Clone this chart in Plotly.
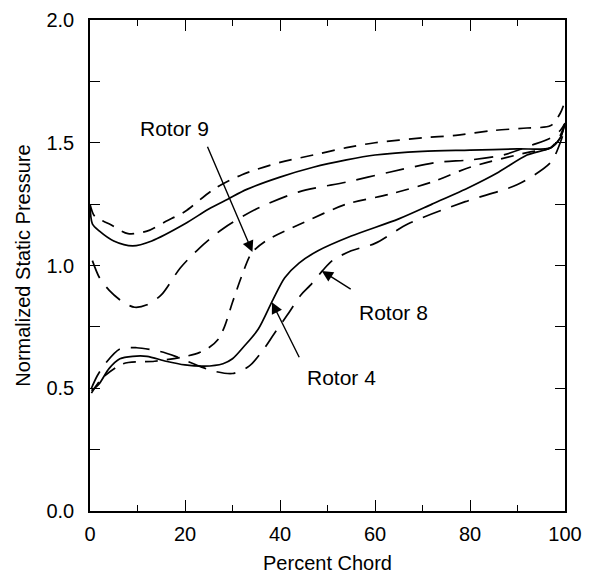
import plotly.graph_objects as go

# Rotor 9 pressure side (upper dashed)
r9p_x = [0, 1, 4, 8, 12, 16, 20, 26, 32, 40, 47, 54, 60, 70, 77, 85, 92, 97, 99, 100]
r9p_y = [1.25, 1.20, 1.17, 1.13, 1.14, 1.18, 1.22, 1.31, 1.37, 1.42, 1.45, 1.48, 1.50, 1.52, 1.53, 1.55, 1.56, 1.57, 1.62, 1.67]

# Rotor 4 pressure side (upper solid)
r4p_x = [0, 0.5, 2, 5, 9, 13, 20, 25, 29, 33, 40, 47, 54, 60, 70, 80, 90, 97, 99, 100]
r4p_y = [1.25, 1.17, 1.14, 1.10, 1.08, 1.10, 1.17, 1.23, 1.27, 1.31, 1.36, 1.40, 1.43, 1.45, 1.465, 1.47, 1.475, 1.48, 1.52, 1.58]

# Rotor 8 pressure side (upper long dash)
r8p_x = [0.5, 2, 4, 7, 9.4, 12, 15, 19, 23, 28, 35, 44, 54, 63, 73, 80, 87, 93, 97, 99, 100]
r8p_y = [1.02, 0.95, 0.90, 0.85, 0.83, 0.84, 0.88, 0.99, 1.07, 1.15, 1.23, 1.30, 1.34, 1.38, 1.42, 1.43, 1.45, 1.49, 1.52, 1.55, 1.58]

# Rotor 4 suction side (lower solid)
r4s_x = [0.3, 2, 4, 6.3, 9, 12, 16, 20, 24, 28, 30, 32.4, 35.4, 38.5, 41, 44, 48, 55, 65, 72, 80, 86, 92, 97, 99, 100]
r4s_y = [0.49, 0.52, 0.58, 0.62, 0.63, 0.63, 0.61, 0.595, 0.59, 0.60, 0.62, 0.67, 0.74, 0.86, 0.95, 1.01, 1.06, 1.12, 1.19, 1.25, 1.32, 1.38, 1.45, 1.48, 1.52, 1.58]

# Rotor 8 suction side (lower long dash)
r8s_x = [0.3, 1.5, 3.2, 6.3, 9.8, 14.7, 18, 23, 26, 30, 33.5, 36.6, 38.7, 41.6, 44.4, 46.4, 49, 51, 55, 60, 67, 79, 90, 97, 99, 100]
r8s_y = [0.50, 0.55, 0.60, 0.66, 0.665, 0.65, 0.63, 0.59, 0.57, 0.56, 0.59, 0.66, 0.72, 0.80, 0.88, 0.92, 0.98, 1.02, 1.06, 1.09, 1.17, 1.26, 1.33, 1.42, 1.50, 1.56]

# Rotor 9 suction side (lower dashed)
r9s_x = [0.3, 2.5, 7, 13.6, 19, 23, 25, 27, 28.3, 30, 32, 34, 37, 44.4, 54, 63, 72, 80, 92, 97, 99, 100]
r9s_y = [0.48, 0.54, 0.60, 0.61, 0.625, 0.645, 0.665, 0.70, 0.75, 0.85, 0.96, 1.05, 1.10, 1.17, 1.25, 1.29, 1.34, 1.40, 1.46, 1.48, 1.53, 1.58]

x_ticks = [0, 20, 40, 60, 80, 100]
y_ticks = [0.0, 0.5, 1.0, 1.5, 2.0]

DASH = "13px,9px"
LONGDASH = "19px,11px"

series = [
    (r9p_x, r9p_y, DASH),
    (r4p_x, r4p_y, "solid"),
    (r8p_x, r8p_y, LONGDASH),
    (r4s_x, r4s_y, "solid"),
    (r8s_x, r8s_y, LONGDASH),
    (r9s_x, r9s_y, DASH),
]

fig = go.Figure()
for xs, ys, dash in series:
    fig.add_trace(go.Scatter(
        x=xs, y=ys, mode="lines",
        line=dict(color="black", width=1.7, dash=dash, shape="spline", smoothing=0.8),
        showlegend=False, hoverinfo="skip"))

font_family = "Liberation Sans, Arial, Helvetica, sans-serif"
fs = 20
afs = 21

# labels
fig.add_annotation(x=17.8, y=1.56, text="Rotor 9", showarrow=False,
                   font=dict(size=afs, color="black", family=font_family))
fig.add_annotation(x=63.8, y=0.81, text="Rotor 8", showarrow=False,
                   font=dict(size=afs, color="black", family=font_family))
fig.add_annotation(x=53, y=0.545, text="Rotor 4", showarrow=False,
                   font=dict(size=afs, color="black", family=font_family))

# arrows (tip x, tip y, tail x, tail y)
arrows = [
    (34.2, 1.055, 24.6, 1.49),
    (48.8, 0.978, 55.2, 0.90),
    (38.3, 0.85, 44.2, 0.62),
]
for x, y, ax, ay in arrows:
    fig.add_annotation(x=x, y=y, ax=ax, ay=ay, xref="x", yref="y", axref="x", ayref="y",
                       text="", showarrow=True, arrowhead=2, arrowsize=1.6,
                       arrowwidth=1.4, arrowcolor="black")

axis_common = dict(
    showgrid=False, zeroline=False, showline=True, linecolor="black", linewidth=1.5,
    mirror="ticks", ticks="inside", tickcolor="black", tickwidth=1.3,
    tickfont=dict(size=fs, color="black", family=font_family), automargin=False,
)

fig.update_xaxes(range=[0, 100], tickvals=x_ticks, ticktext=[str(v) for v in x_ticks],
                 ticklen=11, ticklabelstandoff=4,
                 minor=dict(ticks="inside", dtick=10, tick0=0, ticklen=6, tickcolor="black", tickwidth=1.2),
                 title=dict(text="Percent Chord", font=dict(size=fs, color="black", family=font_family), standoff=12),
                 **axis_common)
fig.update_yaxes(range=[0, 2.0], tickvals=y_ticks, ticktext=[f"{v:.1f}" for v in y_ticks],
                 ticklen=10, ticklabeloverflow="allow", ticklabelstandoff=10,
                 minor=dict(ticks="inside", dtick=0.25, tick0=0, ticklen=10, tickcolor="black", tickwidth=1.2),
                 title=dict(text="Normalized Static Pressure", font=dict(size=fs, color="black", family=font_family), standoff=10),
                 **axis_common)

# page body has an 8px margin, so the figure is sized to fit the window
fig.update_layout(
    width=585, height=568,
    margin=dict(l=82, r=28, t=12, b=65),
    paper_bgcolor="white", plot_bgcolor="white",
    font=dict(family=font_family, color="black"),
)

fig.write_html("out.html")
